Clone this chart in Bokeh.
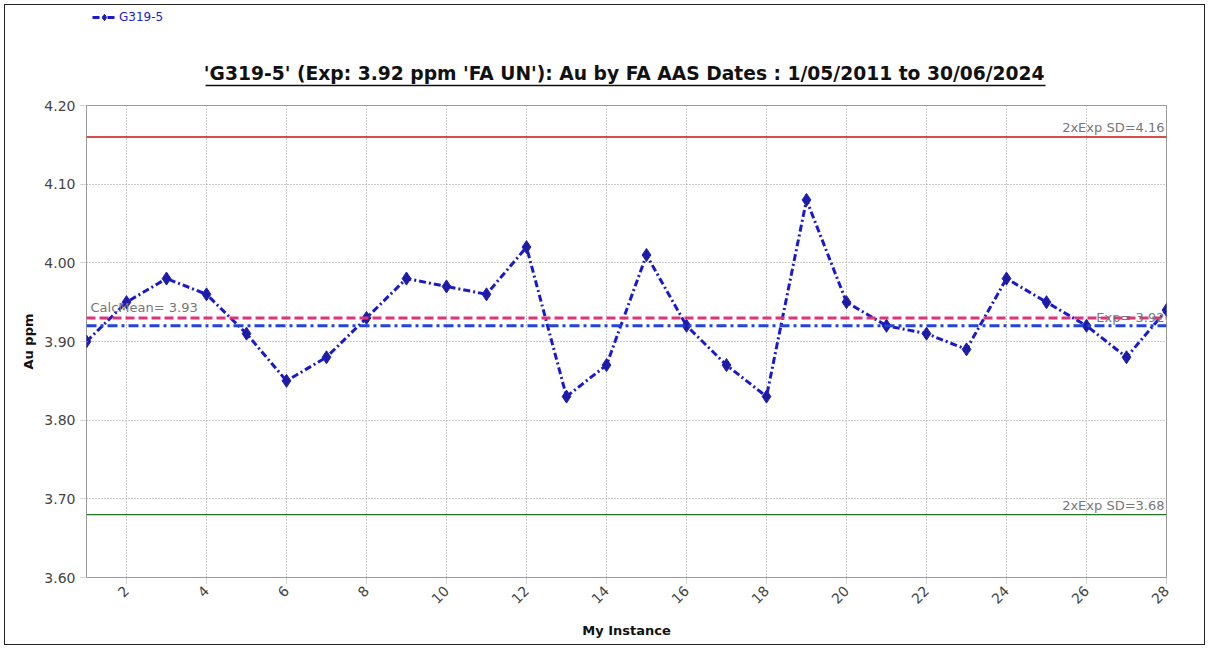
from bokeh.plotting import figure
from bokeh.models import (Span, Label, Legend, LegendItem, FixedTicker,
                          CustomJSTickFormatter, Range1d, ColumnDataSource)
from bokeh.layouts import column
from bokeh.core.properties import value
from bokeh.embed import file_html
from bokeh.resources import INLINE
import math

# Standard G319-5 results, Au by FA AAS
instance = list(range(1, 29))
au_ppm = [3.90, 3.95, 3.98, 3.96, 3.91, 3.85, 3.88, 3.93, 3.98, 3.97,
          3.96, 4.02, 3.83, 3.87, 4.01, 3.92, 3.87, 3.83, 4.08, 3.95,
          3.92, 3.91, 3.89, 3.98, 3.95, 3.92, 3.88, 3.94]

expected = 3.92
calc_mean = 3.93
upper_2sd = 4.16
lower_2sd = 3.68

x_ticks = list(range(2, 29, 2))
y_ticks = [3.60, 3.70, 3.80, 3.90, 4.00, 4.10, 4.20]

title_text = ("'G319-5' (Exp: 3.92 ppm 'FA UN'): Au by FA  AAS Dates : "
              "1/05/2011 to 30/06/2024")

FONT = "DejaVu Sans"
W = 1199
LEFT, RIGHT = 81, 38
HEAD_H = 92

SERIES_LINE = dict(line_color="#1a1acc", line_width=3, line_dash="7 3 2 3")
SERIES_PTS = dict(marker="diamond", size=13, fill_color="#1c1ca8", line_color="#1c1ca8")

# ---- header strip: legend + underlined title (canvas pixels, y downward)
head = figure(width=W, height=HEAD_H,
              x_range=Range1d(LEFT, W - RIGHT), y_range=Range1d(HEAD_H, 0),
              output_backend="svg", toolbar_location=None,
              min_border_left=LEFT, min_border_right=RIGHT,
              min_border_top=0, min_border_bottom=0, outline_line_color=None)
head.axis.visible = False
head.grid.visible = False
head.background_fill_color = "white"
head.border_fill_color = "white"

head.text(x=[622], y=[68], text=[title_text], text_align="center",
          text_baseline="alphabetic", text_font=value(FONT), text_font_size="18.7px",
          text_font_style="bold", text_color="#111111")
head.segment(x0=[200], y0=[80], x1=[1040], y1=[80], line_color="#111111", line_width=1.5)

nan = float("nan")
swatch = ColumnDataSource(data=dict(x=[nan], y=[nan]))
lg_line = head.line("x", "y", source=swatch, **SERIES_LINE)
lg_pts = head.scatter("x", "y", source=swatch, **SERIES_PTS)
legend = Legend(items=[LegendItem(label="G319-5", renderers=[lg_line, lg_pts])],
                location=(6, HEAD_H - 20), orientation="horizontal",
                background_fill_alpha=0, border_line_color=None,
                label_text_font=FONT, label_text_font_size="12px",
                label_text_color="#2222cc", glyph_width=24, glyph_height=16,
                padding=0, margin=0, label_standoff=3)
head.add_layout(legend)

# ---- main control chart
p = figure(width=W, height=547, x_range=(1, 28), y_range=(3.60, 4.20),
           output_backend="svg", toolbar_location=None,
           min_border_left=LEFT, min_border_right=RIGHT, min_border_top=8,
           min_border_bottom=67)

p.outline_line_color = "#999999"
p.outline_line_width = 1
p.background_fill_color = "white"
p.border_fill_color = "white"

p.xaxis.ticker = FixedTicker(ticks=x_ticks)
p.yaxis.ticker = FixedTicker(ticks=y_ticks)
p.yaxis.formatter = CustomJSTickFormatter(code="return tick.toFixed(2);")
p.xaxis.major_label_orientation = math.pi / 4
for ax in (p.xaxis, p.yaxis):
    ax.axis_line_color = None
    ax.major_tick_line_color = "#aaaaaa"
    ax.major_tick_line_dash = "1 1"
    ax.minor_tick_line_color = None
    ax.major_label_text_font = FONT
    ax.major_label_text_font_size = "14px"
    ax.major_label_text_color = "#444444"
    ax.axis_label_text_font = FONT
    ax.axis_label_text_font_size = "13px"
    ax.axis_label_text_font_style = "bold"
    ax.axis_label_text_color = "#111111"
p.xaxis.axis_label = "My Instance"
p.yaxis.axis_label = "Au ppm"
p.xaxis.axis_label_standoff = 12

p.grid.grid_line_color = "#999999"
p.grid.grid_line_dash = "1 2"
p.grid.grid_line_width = 1

# control limits and reference lines
p.add_layout(Span(location=upper_2sd, dimension="width", line_color="#cc1111", line_width=1.5))
p.add_layout(Span(location=lower_2sd, dimension="width", line_color="#227722", line_width=1.2))
p.add_layout(Span(location=calc_mean, dimension="width", line_color="#e0337a",
                  line_width=3, line_dash="9 4"))
p.add_layout(Span(location=expected, dimension="width", line_color="#2244dd",
                  line_width=3, line_dash="10 4 3 4"))

lab_style = dict(text_font=FONT, text_font_size="13px", text_color="#777777")
p.add_layout(Label(x=28, y=upper_2sd, text="2xExp SD=4.16", text_align="right",
                   text_baseline="bottom", x_offset=-2, y_offset=2, **lab_style))
p.add_layout(Label(x=28, y=lower_2sd, text="2xExp SD=3.68", text_align="right",
                   text_baseline="bottom", x_offset=-2, y_offset=2, **lab_style))
p.add_layout(Label(x=1, y=calc_mean, text="CalcMean= 3.93", text_align="left",
                   text_baseline="bottom", x_offset=4, y_offset=3, **lab_style))
p.add_layout(Label(x=28, y=expected, text="Exp= 3.92", text_align="right",
                   text_baseline="bottom", x_offset=-2, y_offset=1, **lab_style))

# result series
p.line(instance, au_ppm, **SERIES_LINE)
p.scatter(instance, au_ppm, **SERIES_PTS)

page = column(head, p, spacing=0,
              styles={"border": "1px solid #222", "margin": "4px 0 0 4px"})

open("out.html", "w").write(file_html(page, INLINE))
